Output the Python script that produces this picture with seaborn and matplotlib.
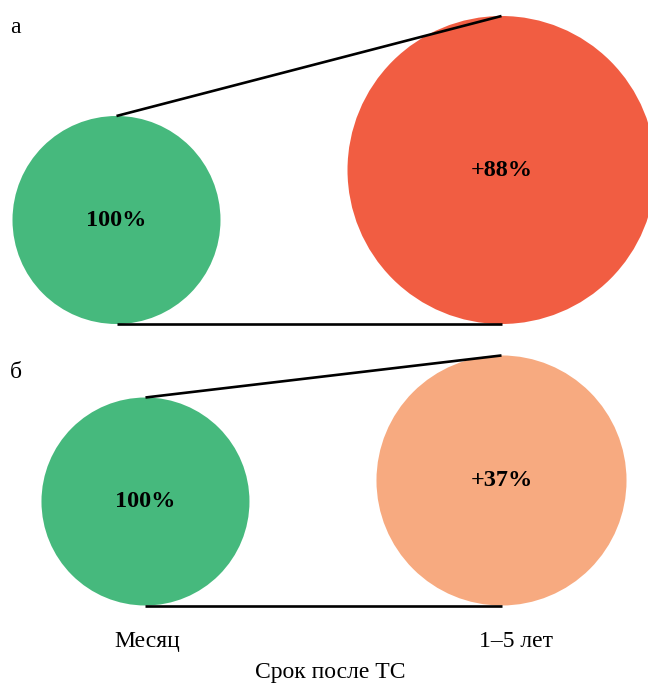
import matplotlib
matplotlib.use("Agg")
import matplotlib.pyplot as plt
import seaborn as sns
import pandas as pd

# ---- data ----
panels = ["а", "б"]
categories = ["Месяц", "1–5 лет"]
values_a = [100, 188]
values_b = [100, 137]
colors_a = ["#46B97D", "#F15D42"]
colors_b = ["#46B97D", "#F7AA80"]
axis_title = "Срок после ТС"

# ---- layout (pixel coordinates, figure 648x683 at dpi 100) ----
W, H = 648, 683
DPI = 100
big_cx = 501.5
bottoms = [324.0, 605.5]
gap = 127.0
r_min, r_max = 104.0, 154.0
v_lo, v_hi = 100.0, 188.0


def radius(v):
    return r_min + (v - v_lo) / (v_hi - v_lo) * (r_max - r_min)


def label(v):
    return "100%" if v == 100 else f"+{v - 100}%"


rows = []
for p, (vals, cols, bottom) in enumerate(zip([values_a, values_b], [colors_a, colors_b], bottoms)):
    r_small, r_big = radius(vals[0]), radius(vals[1])
    small_cx = big_cx - r_big - gap - r_small
    for i, (v, c) in enumerate(zip(vals, cols)):
        r = radius(v)
        cx = small_cx if i == 0 else big_cx
        rows.append(dict(panel=panels[p], cat=categories[i], value=v, color=c,
                         x=cx, y=bottom - r, r=r, key=f"{p}-{i}",
                         s=(2 * r * 72.0 / DPI) ** 2))
df = pd.DataFrame(rows)

sns.set_theme(style="white")
plt.rcParams["font.family"] = ["Liberation Serif", "DejaVu Serif"]

fig = plt.figure(figsize=(W / DPI, H / DPI), dpi=DPI)
ax = fig.add_axes([0, 0, 1, 1])
ax.set_xlim(0, W)
ax.set_ylim(H, 0)
ax.axis("off")

sns.scatterplot(data=df, x="x", y="y", hue="key",
                palette=dict(zip(df["key"], df["color"])),
                size="key", sizes=dict(zip(df["key"], df["s"])),
                linewidth=0, legend=False, ax=ax, zorder=2, clip_on=False)

# connecting lines
for p in panels:
    d = df[df["panel"] == p].reset_index(drop=True)
    xs = [d.loc[0, "x"], d.loc[1, "x"]]
    ax.plot(xs, [d.loc[0, "y"] - d.loc[0, "r"], d.loc[1, "y"] - d.loc[1, "r"]],
            color="black", lw=1.9, zorder=3, solid_capstyle="butt")
    ax.plot(xs, [d.loc[0, "y"] + d.loc[0, "r"], d.loc[1, "y"] + d.loc[1, "r"]],
            color="black", lw=1.9, zorder=3, solid_capstyle="butt")

# labels inside circles
for _, row in df.iterrows():
    ax.text(row["x"], row["y"], label(row["value"]), ha="center", va="center",
            fontsize=17.5, fontweight="bold", color="black", zorder=4)

# panel letters
for p, y in zip(panels, [33, 378]):
    ax.text(10, y, p, ha="left", va="baseline", fontsize=17, color="black")

# category labels and axis title
for cat, x in zip(categories, [147, 516]):
    ax.text(x, 647, cat, ha="center", va="baseline", fontsize=17, color="black")
ax.text(330, 678, axis_title, ha="center", va="baseline", fontsize=17, color="black")

fig.savefig("out.png", dpi=DPI)
